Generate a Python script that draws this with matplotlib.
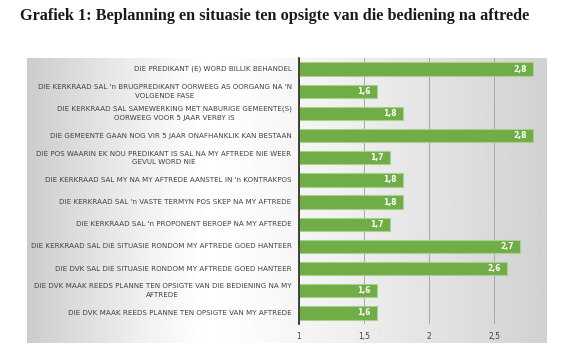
import numpy as np
import matplotlib.pyplot as plt

# -------- DATA --------
labels = [
    "DIE PREDIKANT (E) WORD BILLIK BEHANDEL",
    "DIE KERKRAAD SAL 'n BRUGPREDIKANT OORWEEG AS OORGANG NA 'N\nVOLGENDE FASE",
    "DIE KERKRAAD SAL SAMEWERKING MET NABURIGE GEMEENTE(S)\nOORWEEG VOOR 5 JAAR VERBY IS",
    "DIE GEMEENTE GAAN NOG VIR 5 JAAR ONAFHANKLIK KAN BESTAAN",
    "DIE POS WAARIN EK NOU PREDIKANT IS SAL NA MY AFTREDE NIE WEER\nGEVUL WORD NIE",
    "DIE KERKRAAD SAL MY NA MY AFTREDE AANSTEL IN 'n KONTRAKPOS",
    "DIE KERKRAAD SAL 'n VASTE TERMYN POS SKEP NA MY AFTREDE",
    "DIE KERKRAAD SAL 'n PROPONENT BEROEP NA MY AFTREDE",
    "DIE KERKRAAD SAL DIE SITUASIE RONDOM MY AFTREDE GOED HANTEER",
    "DIE DVK SAL DIE SITUASIE RONDOM MY AFTREDE GOED HANTEER",
    "DIE DVK MAAK REEDS PLANNE TEN OPSIGTE VAN DIE BEDIENING NA MY\nAFTREDE",
    "DIE DVK MAAK REEDS PLANNE TEN OPSIGTE VAN MY AFTREDE",
]
values = [2.8, 1.6, 1.8, 2.8, 1.7, 1.8, 1.8, 1.7, 2.7, 2.6, 1.6, 1.6]
xticks = [1, 1.5, 2, 2.5]
xtick_labels = ["1", "1,5", "2", "2,5"]

W, H = 566, 351
fig = plt.figure(figsize=(W / 100, H / 100), dpi=100)
fig.patch.set_facecolor("white")

# title
fig.text(20 / W, 1 - 16 / H, "Grafiek 1: Beplanning en situasie ten opsigte van die bediening na aftrede",
         fontsize=11.7, fontweight="bold", family="Liberation Serif", va="center", ha="left",
         color="#1a1a1a")

# gradient panel
bg = fig.add_axes([27 / W, 1 - 343 / H, (547 - 27) / W, (343 - 58) / H])
xg = np.linspace(0, 1, 500)
c = 0.35
grad = np.where(xg < c, 1 - 0.2 * ((c - xg) / c) ** 1.2, 1 - 0.18 * ((xg - c) / (1 - c)) ** 1.2)
bg.imshow(grad[None, :], aspect="auto", cmap="gray", vmin=0, vmax=1, extent=[0, 1, 0, 1])
bg.axis("off")

# -------- BAR CHART --------
ax = fig.add_axes([299 / W, 1 - 324 / H, (545 - 299) / W, (324 - 58) / H])
ax.patch.set_alpha(0)
y = np.arange(len(values))
ax.barh(y, [v - 1 for v in values], left=1, height=0.6, color="#70ad47",
        edgecolor="#a9d18e", linewidth=0.8, zorder=3)
for yi, v in zip(y, values):
    ax.text(v - 0.05, yi, f"{v:.1f}".replace(".", ","), ha="right", va="center",
            color="white", fontsize=5.5, fontweight="bold", zorder=4)

ax.set_ylim(len(values) - 0.5, -0.5)
ax.set_xlim(1, 2.89)
ax.set_xticks(xticks)
ax.set_xticklabels(xtick_labels, fontsize=5.5, color="#404040")
ax.tick_params(axis="x", length=0, pad=6)
ax.set_yticks([])
ax.grid(axis="x", color="#a6a6a6", linewidth=0.7, zorder=0)
for s in ["top", "right", "bottom"]:
    ax.spines[s].set_visible(False)
ax.spines["left"].set_color("#262626")
ax.spines["left"].set_linewidth(1.2)
ax.spines["left"].set_zorder(5)

for yi, lab in zip(y, labels):
    ax.text(-0.03, yi, lab, ha="right", va="center", multialignment="center",
            fontsize=5.1, color="#404040", transform=ax.get_yaxis_transform(),
            linespacing=1.5)

fig.savefig("out.png", dpi=100)
